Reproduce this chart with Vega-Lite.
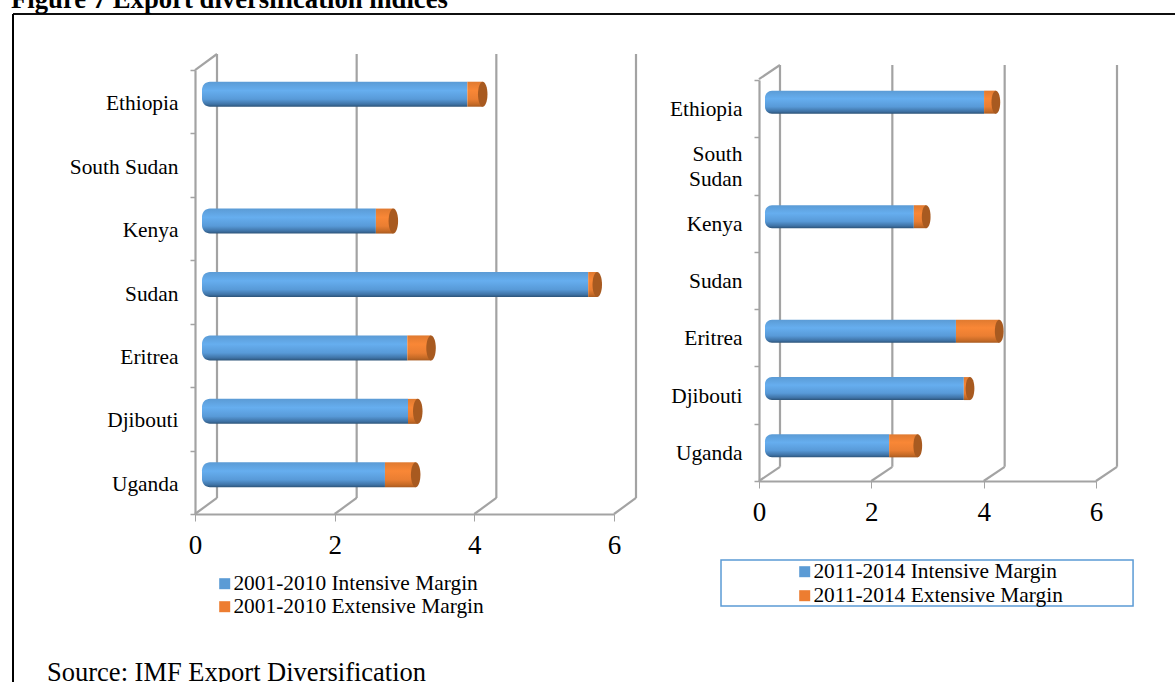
{
  "$schema": "https://vega.github.io/schema/vega-lite/v6.json",
  "width": 1162,
  "height": 668,
  "autosize": "none",
  "padding": {"left": 13, "top": 14, "right": 0, "bottom": 0},
  "background": "white",
  "config": {
    "view": {"stroke": null},
    "axis": {"grid": false, "title": null, "labelFont": "Liberation Serif", "labelColor": "black", "labelFlush": false, "labelOverlap": false, "domainColor": "#a3a3a3", "domainWidth": 2.2, "tickColor": "#a3a3a3"},
    "legend": {"title": null, "orient": "none", "padding": 0, "symbolType": "square", "symbolSize": 121, "symbolStrokeWidth": 0, "symbolOpacity": 1, "labelFont": "Liberation Serif", "labelFontSize": 21.4, "labelColor": "black", "labelOffset": -2, "labelLimit": 400}
  },
  "datasets": {
    "margins": [
      {"period": "2001-2010", "country": "Ethiopia", "margin": "Intensive", "series": "2001-2010 Intensive Margin", "value": 3.80},
      {"period": "2001-2010", "country": "Ethiopia", "margin": "Extensive", "series": "2001-2010 Extensive Margin", "value": 0.22},
      {"period": "2001-2010", "country": "Kenya", "margin": "Intensive", "series": "2001-2010 Intensive Margin", "value": 2.49},
      {"period": "2001-2010", "country": "Kenya", "margin": "Extensive", "series": "2001-2010 Extensive Margin", "value": 0.25},
      {"period": "2001-2010", "country": "Sudan", "margin": "Intensive", "series": "2001-2010 Intensive Margin", "value": 5.53},
      {"period": "2001-2010", "country": "Sudan", "margin": "Extensive", "series": "2001-2010 Extensive Margin", "value": 0.13},
      {"period": "2001-2010", "country": "Eritrea", "margin": "Intensive", "series": "2001-2010 Intensive Margin", "value": 2.94},
      {"period": "2001-2010", "country": "Eritrea", "margin": "Extensive", "series": "2001-2010 Extensive Margin", "value": 0.34},
      {"period": "2001-2010", "country": "Djibouti", "margin": "Intensive", "series": "2001-2010 Intensive Margin", "value": 2.95},
      {"period": "2001-2010", "country": "Djibouti", "margin": "Extensive", "series": "2001-2010 Extensive Margin", "value": 0.14},
      {"period": "2001-2010", "country": "Uganda", "margin": "Intensive", "series": "2001-2010 Intensive Margin", "value": 2.62},
      {"period": "2001-2010", "country": "Uganda", "margin": "Extensive", "series": "2001-2010 Extensive Margin", "value": 0.44},
      {"period": "2011-2014", "country": "Ethiopia", "margin": "Intensive", "series": "2011-2014 Intensive Margin", "value": 3.90},
      {"period": "2011-2014", "country": "Ethiopia", "margin": "Extensive", "series": "2011-2014 Extensive Margin", "value": 0.21},
      {"period": "2011-2014", "country": "Kenya", "margin": "Intensive", "series": "2011-2014 Intensive Margin", "value": 2.65},
      {"period": "2011-2014", "country": "Kenya", "margin": "Extensive", "series": "2011-2014 Extensive Margin", "value": 0.22},
      {"period": "2011-2014", "country": "Eritrea", "margin": "Intensive", "series": "2011-2014 Intensive Margin", "value": 3.40},
      {"period": "2011-2014", "country": "Eritrea", "margin": "Extensive", "series": "2011-2014 Extensive Margin", "value": 0.77},
      {"period": "2011-2014", "country": "Djibouti", "margin": "Intensive", "series": "2011-2014 Intensive Margin", "value": 3.54},
      {"period": "2011-2014", "country": "Djibouti", "margin": "Extensive", "series": "2011-2014 Extensive Margin", "value": 0.11},
      {"period": "2011-2014", "country": "Uganda", "margin": "Intensive", "series": "2011-2014 Intensive Margin", "value": 2.21},
      {"period": "2011-2014", "country": "Uganda", "margin": "Extensive", "series": "2011-2014 Extensive Margin", "value": 0.51}
    ],
    "ticks": [{"tick": 0}, {"tick": 2}, {"tick": 4}, {"tick": 6}],
    "heading": [{"note": "Figure 7 Export diversification indices"}],
    "source": [{"note": "Source: IMF Export Diversification"}]
  },
  "data": {"name": "ticks"},
  "layer": [
    {
      "mark": {"type": "rule", "color": "black", "strokeWidth": 2},
      "encoding": {"x": {"datum": 0, "type": "quantitative", "axis": null, "scale": {"domain": [0, 1], "range": [0, 1162]}}}
    },
    {
      "mark": {"type": "rule", "color": "black", "strokeWidth": 1.2},
      "encoding": {"y": {"datum": 0, "type": "quantitative", "axis": null, "scale": {"domain": [0, 1], "range": [0, 668]}}}
    },
    {
      "data": {"name": "heading"},
      "mark": {"type": "text", "font": "Liberation Serif", "fontWeight": "bold", "fontSize": 26.7, "align": "left", "baseline": "alphabetic", "color": "black"},
      "encoding": {
        "text": {"field": "note"},
        "x": {"datum": -0.0017, "type": "quantitative", "axis": null, "scale": {"domain": [0, 1], "range": [0, 1162]}},
        "y": {"datum": -0.009, "type": "quantitative", "axis": null, "scale": {"domain": [0, 1], "range": [0, 668]}}
      }
    },
    {
      "data": {"name": "source"},
      "mark": {"type": "text", "font": "Liberation Serif", "fontSize": 26.5, "align": "left", "baseline": "alphabetic", "color": "black"},
      "encoding": {
        "text": {"field": "note"},
        "x": {"datum": 0.0293, "type": "quantitative", "axis": null, "scale": {"domain": [0, 1], "range": [0, 1162]}},
        "y": {"datum": 0.9985, "type": "quantitative", "axis": null, "scale": {"domain": [0, 1], "range": [0, 668]}}
      }
    },
    {
      "data": {"name": "source"},
      "mark": {"type": "rect", "fill": "white", "stroke": "#5b9bd5", "strokeWidth": 1.5},
      "encoding": {
        "x": {"datum": 0.6093, "type": "quantitative", "axis": null, "scale": {"domain": [0, 1], "range": [0, 1162]}},
        "x2": {"datum": 0.9639},
        "y": {"datum": 0.8174, "type": "quantitative", "axis": null, "scale": {"domain": [0, 1], "range": [0, 668]}},
        "y2": {"datum": 0.8862}
      }
    },
    {
      "layer": [
        {
          "mark": {"type": "rule", "color": "#a3a3a3", "strokeWidth": 2.2, "x2Offset": 22},
          "encoding": {
            "x": {"field": "tick", "type": "quantitative", "axis": null, "scale": {"domain": [0, 6], "range": [182, 601]}},
            "x2": {"field": "tick"},
            "y": {"datum": 0, "type": "quantitative", "axis": null, "scale": {"domain": [0, 1], "range": [500, 40]}},
            "y2": {"datum": 0.035}
          }
        },
        {
          "mark": {"type": "rule", "color": "#a3a3a3", "strokeWidth": 2.2, "xOffset": 22},
          "encoding": {
            "x": {"field": "tick", "type": "quantitative", "axis": null, "scale": {"domain": [0, 6], "range": [182, 601]}},
            "y": {"datum": 0.035, "type": "quantitative", "axis": null, "scale": {"domain": [0, 1], "range": [500, 40]}},
            "y2": {"datum": 1}
          }
        },
        {
          "transform": [{"filter": "datum.tick === 0"}],
          "mark": {"type": "rule", "color": "#a3a3a3", "strokeWidth": 2.2, "x2Offset": 22},
          "encoding": {
            "x": {"field": "tick", "type": "quantitative", "axis": null, "scale": {"domain": [0, 6], "range": [182, 601]}},
            "x2": {"field": "tick"},
            "y": {"datum": 0.965, "type": "quantitative", "axis": null, "scale": {"domain": [0, 1], "range": [500, 40]}},
            "y2": {"datum": 1}
          }
        }
      ]
    },
    {
      "data": {"name": "margins"},
      "transform": [
        {"filter": "datum.period === '2001-2010'"},
        {"stack": "value", "groupby": ["country"], "sort": [{"field": "margin", "order": "descending"}], "as": ["start", "end"]}
      ],
      "encoding": {
        "y": {
          "field": "country", "type": "nominal",
          "scale": {"type": "band", "domain": ["Ethiopia", "South Sudan", "Kenya", "Sudan", "Eritrea", "Djibouti", "Uganda"], "range": [56, 500], "padding": 0},
          "axis": {"orient": "left", "offset": -182, "labelFontSize": 21.4, "labelPadding": 12, "labelOffset": 2, "tickBand": "extent", "tickSize": 5, "tickWidth": 1.5, "labelLimit": 200}
        }
      },
      "layer": [
        {
          "transform": [{"filter": "datum.margin === 'Intensive'"}],
          "mark": {
            "type": "bar", "height": 25, "xOffset": 7, "x2Offset": 7, "yOffset": -7.5, "cornerRadiusTopLeft": 8, "cornerRadiusBottomLeft": 8,
            "fill": {"gradient": "linear", "x1": 0, "y1": 0, "x2": 0, "y2": 1, "stops": [{"offset": 0, "color": "#5b9bd5"}, {"offset": 0.35, "color": "#66aeef"}, {"offset": 0.7, "color": "#589ad8"}, {"offset": 0.9, "color": "#3f73a6"}, {"offset": 1, "color": "#2c5378"}]}
          },
          "encoding": {
            "x": {"field": "start", "type": "quantitative", "scale": {"domain": [0, 6], "range": [182, 601]},
              "axis": {"orient": "bottom", "offset": -168, "values": [0, 2, 4, 6], "labelFontSize": 27, "labelPadding": 11, "tickSize": 7, "tickWidth": 1, "format": "d"}},
            "x2": {"field": "end"}
          }
        },
        {
          "transform": [{"filter": "datum.margin === 'Extensive'"}],
          "mark": {
            "type": "bar", "height": 25, "xOffset": 7, "x2Offset": 7, "yOffset": -7.5,
            "fill": {"gradient": "linear", "x1": 0, "y1": 0, "x2": 0, "y2": 1, "stops": [{"offset": 0, "color": "#e07a30"}, {"offset": 0.35, "color": "#f98736"}, {"offset": 0.7, "color": "#ea7e32"}, {"offset": 0.9, "color": "#c56a26"}, {"offset": 1, "color": "#a85a20"}]}
          },
          "encoding": {
            "x": {"field": "start", "type": "quantitative"},
            "x2": {"field": "end"}
          }
        },
        {
          "transform": [{"filter": "datum.margin === 'Extensive'"}],
          "mark": {"type": "point", "filled": true, "opacity": 1, "size": 625, "xOffset": 7, "yOffset": -7.5, "shape": "M0,-1A0.38,1,0,0,1,0,1A0.38,1,0,0,1,0,-1Z", "fill": "#a85a20"},
          "encoding": {
            "x": {"field": "end", "type": "quantitative"}
          }
        },
        {
          "mark": {"type": "point", "filled": true, "opacity": 1, "size": 0, "xOffset": 7, "yOffset": -7.5},
          "encoding": {
            "x": {"field": "end", "type": "quantitative"},
            "color": {
              "field": "series", "type": "nominal",
              "scale": {"domain": ["2001-2010 Intensive Margin", "2001-2010 Extensive Margin"], "range": ["#5b9bd5", "#ed7d31"]},
              "legend": {"legendX": 201, "legendY": 559, "rowPadding": 0}
            }
          }
        }
      ]
    },
    {
      "layer": [
        {
          "mark": {"type": "rule", "color": "#a3a3a3", "strokeWidth": 2.2, "x2Offset": 21},
          "encoding": {
            "x": {"field": "tick", "type": "quantitative", "axis": null, "scale": {"domain": [0, 6], "range": [746, 1083]}},
            "x2": {"field": "tick"},
            "y": {"datum": 0, "type": "quantitative", "axis": null, "scale": {"domain": [0, 1], "range": [467, 51]}},
            "y2": {"datum": 0.034}
          }
        },
        {
          "mark": {"type": "rule", "color": "#a3a3a3", "strokeWidth": 2.2, "xOffset": 21},
          "encoding": {
            "x": {"field": "tick", "type": "quantitative", "axis": null, "scale": {"domain": [0, 6], "range": [746, 1083]}},
            "y": {"datum": 0.034, "type": "quantitative", "axis": null, "scale": {"domain": [0, 1], "range": [467, 51]}},
            "y2": {"datum": 1}
          }
        },
        {
          "transform": [{"filter": "datum.tick === 0"}],
          "mark": {"type": "rule", "color": "#a3a3a3", "strokeWidth": 2.2, "x2Offset": 21},
          "encoding": {
            "x": {"field": "tick", "type": "quantitative", "axis": null, "scale": {"domain": [0, 6], "range": [746, 1083]}},
            "x2": {"field": "tick"},
            "y": {"datum": 0.966, "type": "quantitative", "axis": null, "scale": {"domain": [0, 1], "range": [467, 51]}},
            "y2": {"datum": 1}
          }
        }
      ]
    },
    {
      "data": {"name": "margins"},
      "transform": [
        {"filter": "datum.period === '2011-2014'"},
        {"stack": "value", "groupby": ["country"], "sort": [{"field": "margin", "order": "descending"}], "as": ["start", "end"]}
      ],
      "encoding": {
        "y": {
          "field": "country", "type": "nominal",
          "scale": {"type": "band", "domain": ["Ethiopia", "South Sudan", "Kenya", "Sudan", "Eritrea", "Djibouti", "Uganda"], "range": [66, 467], "padding": 0},
          "axis": {"orient": "left", "offset": -746, "labelFontSize": 21.4, "labelPadding": 12, "labelOffset": 1, "tickBand": "extent", "tickSize": 5, "tickWidth": 1.5, "labelLimit": 200, "labelLineHeight": 25,
            "labelExpr": "datum.label === 'South Sudan' ? ['South', 'Sudan'] : datum.label",
            "encoding": {"labels": {"dy": {"condition": {"test": "datum.value === 'South Sudan'", "value": -12}, "value": 0}}}}
        }
      },
      "layer": [
        {
          "transform": [{"filter": "datum.margin === 'Intensive'"}],
          "mark": {
            "type": "bar", "height": 23, "xOffset": 6, "x2Offset": 6, "yOffset": -6.5, "cornerRadiusTopLeft": 7, "cornerRadiusBottomLeft": 7,
            "fill": {"gradient": "linear", "x1": 0, "y1": 0, "x2": 0, "y2": 1, "stops": [{"offset": 0, "color": "#5b9bd5"}, {"offset": 0.35, "color": "#66aeef"}, {"offset": 0.7, "color": "#589ad8"}, {"offset": 0.9, "color": "#3f73a6"}, {"offset": 1, "color": "#2c5378"}]}
          },
          "encoding": {
            "x": {"field": "start", "type": "quantitative", "scale": {"domain": [0, 6], "range": [746, 1083]},
              "axis": {"orient": "bottom", "offset": -201, "values": [0, 2, 4, 6], "labelFontSize": 27, "labelPadding": 11, "tickSize": 7, "tickWidth": 1, "format": "d"}},
            "x2": {"field": "end"}
          }
        },
        {
          "transform": [{"filter": "datum.margin === 'Extensive'"}],
          "mark": {
            "type": "bar", "height": 23, "xOffset": 6, "x2Offset": 6, "yOffset": -6.5,
            "fill": {"gradient": "linear", "x1": 0, "y1": 0, "x2": 0, "y2": 1, "stops": [{"offset": 0, "color": "#e07a30"}, {"offset": 0.35, "color": "#f98736"}, {"offset": 0.7, "color": "#ea7e32"}, {"offset": 0.9, "color": "#c56a26"}, {"offset": 1, "color": "#a85a20"}]}
          },
          "encoding": {
            "x": {"field": "start", "type": "quantitative"},
            "x2": {"field": "end"}
          }
        },
        {
          "transform": [{"filter": "datum.margin === 'Extensive'"}],
          "mark": {"type": "point", "filled": true, "opacity": 1, "size": 529, "xOffset": 6, "yOffset": -6.5, "shape": "M0,-1A0.38,1,0,0,1,0,1A0.38,1,0,0,1,0,-1Z", "fill": "#a85a20"},
          "encoding": {
            "x": {"field": "end", "type": "quantitative"}
          }
        },
        {
          "mark": {"type": "point", "filled": true, "opacity": 1, "size": 0, "xOffset": 6, "yOffset": -6.5},
          "encoding": {
            "x": {"field": "end", "type": "quantitative"},
            "color": {
              "field": "series", "type": "nominal",
              "scale": {"domain": ["2011-2014 Intensive Margin", "2011-2014 Extensive Margin"], "range": ["#5b9bd5", "#ed7d31"]},
              "legend": {"legendX": 781, "legendY": 547, "rowPadding": 1}
            }
          }
        }
      ]
    }
  ],
  "resolve": {
    "scale": {"x": "independent", "y": "independent", "color": "independent"},
    "axis": {"x": "independent", "y": "independent"},
    "legend": {"color": "independent"}
  }
}
